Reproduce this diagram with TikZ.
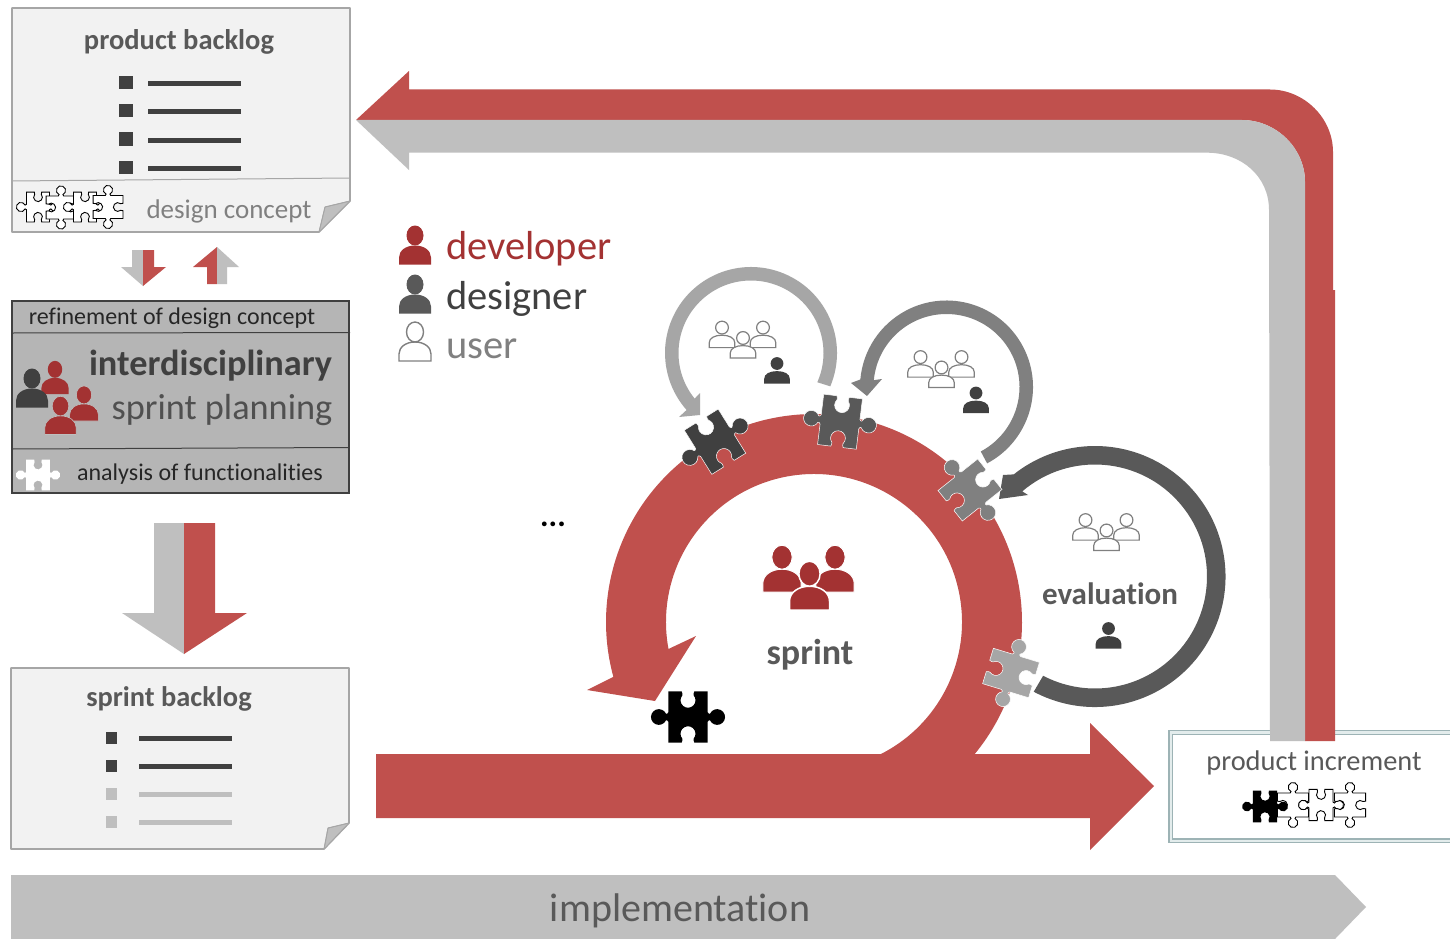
\documentclass[tikz,border=0pt]{standalone}
\usepackage{fontspec}
\setmainfont{Carlito}[Ligatures=NoCommon]
\definecolor{brick}{HTML}{C0504D}
\definecolor{wine}{HTML}{A33232}
\definecolor{greyA}{HTML}{BFBFBF}
\definecolor{greyB}{HTML}{A6A6A6}
\definecolor{greyC}{HTML}{808080}
\definecolor{greyD}{HTML}{595959}
\definecolor{greyE}{HTML}{404040}
\definecolor{pagefill}{HTML}{F2F2F2}
\definecolor{teal1}{HTML}{9DB3B5}
\definecolor{teal2}{HTML}{E3ECEC}
\newcommand{\fsz}[1]{\fontsize{#1}{#1}\selectfont}
\tikzset{
  x=1pt,y=-1pt,
  puzzle/.pic={
    \path[pic actions] (-1,-1.3) -- (-.32,-1.3)
      .. controls (-.3,-1.2) and (-.25,-1.15) .. (-.291,-1.094)
      arc[start angle=220,end angle=-40,radius=.38]
      .. controls (.25,-1.15) and (.3,-1.2) .. (.32,-1.3)
      -- (1,-1.3) -- (1,-.24)
      .. controls (1.05,-.15) and (1.08,-.15) .. (1.1175,-.169)
      arc[start angle=-155,end angle=155,radius=.4]
      .. controls (1.08,.15) and (1.05,.15) .. (1,.24)
      -- (1,1.3) -- (.32,1.3)
      .. controls (.3,1.2) and (.25,1.15) .. (.291,1.094)
      arc[start angle=40,end angle=-220,radius=.38]
      .. controls (-.25,1.15) and (-.3,1.2) .. (-.32,1.3)
      -- (-1,1.3) -- (-1,.24)
      .. controls (-1.05,.15) and (-1.08,.15) .. (-1.1175,.169)
      arc[start angle=25,end angle=335,radius=.4]
      .. controls (-1.08,-.15) and (-1.05,-.15) .. (-1,-.24)
      -- cycle;
  },
  person/.pic={
    \path[pic actions] (-16,0) -- (-16,-7) .. controls (-16,-14) and (-9,-19) .. (0,-19)
      .. controls (9,-19) and (16,-14) .. (16,-7) -- (16,0) -- cycle;
    \path[pic actions] (0,-29) ellipse[x radius=8.5,y radius=10];
  },
  flatperson/.pic={
    \path[pic actions] (-16,0) -- (-16,-6) .. controls (-16,-12) and (-9,-15.5) .. (0,-15.5)
      .. controls (9,-15.5) and (16,-12) .. (16,-6) -- (16,0) -- cycle;
    \path[pic actions] (0,-25) circle[radius=8];
  },
  usercrowd/.style={fill=white,draw=greyC,line width=1.2pt},
  crowd/.pic={
    \pic[usercrowd,scale=.8] at (-21,-10.4) {flatperson};
    \pic[usercrowd,scale=.8] at (20,-10.4) {flatperson};
    \pic[usercrowd,scale=.8] at (0,0) {flatperson};
  },
  whitepiece/.style={fill=white,draw=black,line width=.9pt},
  solidpiece/.style={fill=#1,draw=white,line width=.5pt},
  pageshape/.style={fill=pagefill,draw=greyB,line width=1.6pt,line join=round},
  foldshape/.style={fill=greyA,draw=greyB,line width=.8pt,line join=round},
  txt/.style={inner sep=0pt,outer sep=0pt,anchor=center},
  barline/.style={line width=5pt},
}
\begin{document}
\begin{tikzpicture}
\useasboundingbox[fill=white] (0,0) rectangle (1450,939);

% implementation arrow
\fill[greyA] (11,875) -- (1335,875) -- (1366,907) -- (1335,939) -- (11,939) -- cycle;
\node[txt,text=greyD] (impl) at (680,910.5) {\fsz{40}implementation};

% product increment box
\fill[teal1] (1168,729.5) rectangle (1452,843);
\fill[teal2] (1169.5,731) rectangle (1452,841.5);
\fill[teal1] (1171.5,733.5) rectangle (1452,839.5);
\fill[white] (1173,735) rectangle (1452,838);

% return arrow (product increment -> product backlog)
\fill[brick] (356,120) -- (409,71) -- (409,89.5) -- (1270,89.5)
  .. controls (1304,89.5) and (1333,118) .. (1333,152) -- (1333,290) -- (1335,290) -- (1335,741) -- (1305,741)
  -- (1305,182) .. controls (1305,148) and (1276,120) .. (1242,120) -- cycle;
\fill[greyA] (356,120) -- (1242,120) .. controls (1276,120) and (1305,148) .. (1305,182)
  -- (1305,741) -- (1270,741) -- (1269,210) .. controls (1269,176) and (1241,152.7) .. (1207,152.7)
  -- (409,152.7) -- (409,170) -- cycle;

% increment label and pieces
\node[txt,text=greyD] (inc) at (1314,763) {\fsz{28.4}product increment};
\pic[whitepiece,scale=12,rotate=90] at (1293,805) {puzzle};
\pic[whitepiece,scale=12] at (1321,805) {puzzle};
\pic[whitepiece,scale=12,rotate=90] at (1350,805) {puzzle};
\pic[fill=black,scale=12.2] at (1265,806.5) {puzzle};

% product backlog page
\draw[pageshape] (12,8) -- (350,8) -- (350,201) -- (319,232) -- (12,232) -- cycle;
\draw[greyB,line width=1pt] (12,181) -- (350,178);
\fill[foldshape] (350,201) -- (325,207) -- (319,232) -- cycle;
\draw[foldshape,fill=none] (350,201) -- (325,207) -- (319,232);
\node[txt,text=greyD] (pb) at (179,42) {\fsz{28.5}\bfseries product backlog};
\foreach \yy in {84,112,140,168}{
  \fill[greyE] (119,\yy-7.5) rectangle (133,\yy+5.5);
  \draw[greyE,barline] (148,\yy) -- (241,\yy);
}
\node[txt,text=greyC] (dc) at (229,211) {\fsz{27}design concept};
\pic[whitepiece,scale=11.5] at (38,207) {puzzle};
\pic[whitepiece,scale=11.5,rotate=90] at (61,207.5) {puzzle};
\pic[whitepiece,scale=11.5] at (85,207) {puzzle};
\pic[whitepiece,scale=11.5,rotate=90] at (108,207) {puzzle};

% small exchange arrows
\fill[greyA] (132,250) -- (143,250) -- (143,286) -- (121,267) -- (132,267) -- cycle;
\fill[brick] (143,250) -- (154,250) -- (154,267) -- (166,267) -- (143,286) -- cycle;
\fill[brick] (217,284) -- (207,284) -- (207,267) -- (193,267) -- (217,247) -- cycle;
\fill[greyA] (217,284) -- (227,284) -- (227,267) -- (239,267) -- (217,247) -- cycle;

% planning box
\draw[fill=greyA!95!black,draw=greyE,line width=2pt] (12,300.5) rectangle (349,493);
\draw[greyE,line width=1pt] (12,333) -- (350,332.5);
\draw[greyE,line width=1pt] (12,449) -- (349,447.5);
\node[txt,text=black!85] (rf) at (172,318) {\fsz{24}refinement of design concept};
\node[txt,text=greyE] (id) at (210.5,366) {\fsz{36.3}\bfseries interdisciplinary};
\node[txt,text=greyD!90!black] (sp) at (222,410.5) {\fsz{36.3}sprint planning};
\node[txt,text=black!85] (an) at (200,474) {\fsz{24}analysis of functionalities};
\pic[fill=white,scale=11.8] at (38,475) {puzzle};
\pic[fill=wine,scale=.85] at (55,394) {person};
\pic[fill=greyE,scale=1] at (32,407.5) {person};
\pic[fill=wine,draw=greyA,line width=.6pt,scale=.9] at (84,421) {person};
\pic[fill=wine,draw=greyA,line width=.6pt,scale=.98] at (60.5,434.5) {person};

% large down arrow
\fill[greyA] (154,523) -- (184,523) -- (184,654) -- (122,613) -- (154,613) -- cycle;
\fill[brick] (184,523) -- (215,523) -- (215,613) -- (247,613) -- (184,654) -- cycle;

% sprint backlog page
\draw[pageshape] (11,668) -- (349,668) -- (349,823) -- (324,849) -- (11,849) -- cycle;
\fill[foldshape] (349,823) -- (328,828) -- (324,849) -- cycle;
\draw[foldshape,fill=none] (349,823) -- (328,828) -- (324,849);
\node[txt,text=greyD] (sb) at (169,699) {\fsz{28.4}\bfseries sprint backlog};
\foreach \yy/\cc in {738/greyE,766/greyE,794/greyA,822/greyA}{
  \fill[\cc] (106,\yy-6) rectangle (117,\yy+6);
  \draw[\cc,barline] (139,\yy) -- (232,\yy);
}

% legend
\pic[fill=wine,scale=1] at (415,264.5) {person};
\node[txt,anchor=base west,text=wine] (dev) at (446,259) {\fsz{40.5}developer};
\pic[fill=greyD,scale=1] at (415,313.5) {person};
\node[txt,anchor=base west,text=greyE] (des) at (446,309) {\fsz{40.5}designer};
\pic[fill=white,draw=greyC,line width=1.4pt,scale=1] at (415,361) {person};
\node[txt,anchor=base west,text=greyC] (usr) at (446,358) {\fsz{40.5}user};

% ellipsis
\node[txt,text=black] (dots) at (553,524) {\fsz{32}\bfseries ...};

% sprint bar and ring
\fill[brick] (376,754) -- (1090,754) -- (1090,723) -- (1154,786) -- (1090,850) -- (1090,818) -- (376,818) -- cycle;
\coordinate (cs) at (814,622);
\fill[brick] ([shift={(39.7:208)}]cs) arc[start angle=39.7,end angle=-195.3,radius=208]
  -- (587,690) -- (655,701) -- (696,636) -- ([shift={(-190.5:148)}]cs)
  arc[start angle=-190.5,end angle=64,radius=148] -- cycle;
\pic[fill=wine,draw=white,line width=1pt,scale=1.2] at (782,592) {person};
\pic[fill=wine,draw=white,line width=1pt,scale=1.2] at (835,592) {person};
\pic[fill=wine,draw=white,line width=1.5pt,scale=1.25] at (809.5,610) {person};
\node[txt,text=greyD] (spr) at (810,655) {\fsz{36}\bfseries sprint};

% iteration arrows
\coordinate (c1) at (751,353);
\fill[greyB] ([shift={(22.8:86)}]c1) arc[start angle=22.8,end angle=-221.5,radius=86]
  -- (679,417) -- (700,415) -- (700,393) -- ([shift={(-219:72.5)}]c1)
  arc[start angle=-219,end angle=23.8,radius=72.5] -- cycle;
\coordinate (c2) at (946.5,387);
\fill[greyC] ([shift={(62:86.5)}]c2) arc[start angle=62,end angle=-175,radius=86.5]
  -- (851,383) -- (867,396) -- (882,379) -- ([shift={(-174.6:73)}]c2)
  arc[start angle=-174.6,end angle=62,radius=73] -- cycle;
\coordinate (c3) at (1095,576.5);
\fill[greyD] ([shift={(118:130.5)}]c3) arc[start angle=118,end angle=-128.5,radius=130.5]
  -- (1003,475) -- (999,499) -- (1028,495) -- ([shift={(-130.5:112)}]c3)
  arc[start angle=-130.5,end angle=117.6,radius=112] -- cycle;

% crowds and single designers
\pic at (743,358) {crowd};
\pic[fill=greyE,scale=.8] at (777,383.5) {flatperson};
\pic at (941.5,387.5) {crowd};
\pic[fill=greyE,scale=.8] at (976,413) {flatperson};
\pic at (1106.5,550.5) {crowd};
\pic[fill=greyE,scale=.8] at (1108.5,648.5) {flatperson};
\node[txt,text=greyD] (ev) at (1110,594) {\fsz{31}\bfseries evaluation};

% puzzle pieces on the sprint ring
\pic[fill=black,scale=19.7] at (688,717) {puzzle};
\pic[solidpiece=greyE,scale=20,rotate=32] at (715,441.7) {puzzle};
\pic[solidpiece=greyD,scale=19.5,rotate=-7] at (840,421.7) {puzzle};
\pic[solidpiece=greyC,scale=19.5,rotate=-51.5] at (970,490) {puzzle};
\pic[solidpiece=greyB,scale=18.5,rotate=-107] at (1011,673) {puzzle};
\end{tikzpicture}
\end{document}
